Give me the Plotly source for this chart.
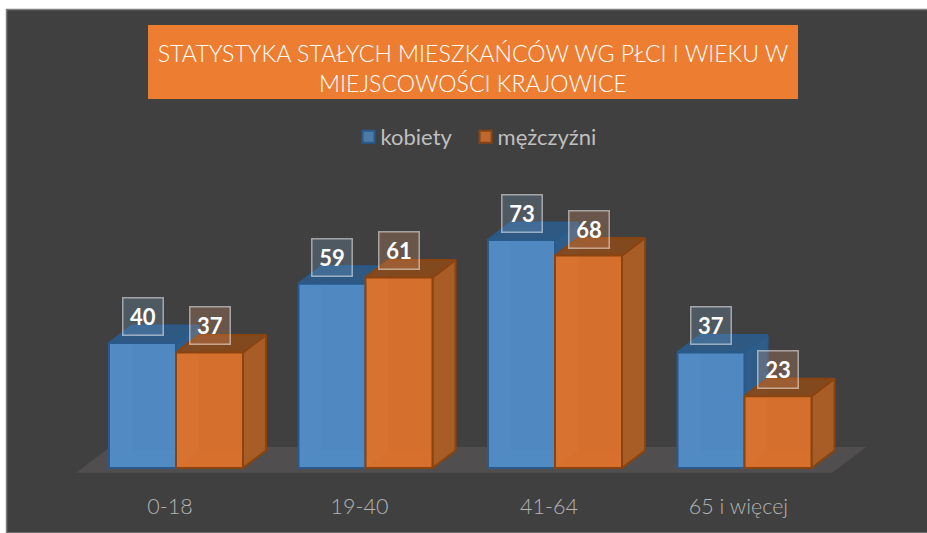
import plotly.graph_objects as go

categories = ["0-18", "19-40", "41-64", "65 i więcej"]
kobiety = [40, 59, 73, 37]
mezczyzni = [37, 61, 68, 23]
series_names = ["kobiety", "mężczyźni"]
title_text = "STATYSTYKA STAŁYCH MIESZKAŃCÓW WG PŁCI I WIEKU W<br>MIEJSCOWOŚCI KRAJOWICE"

W, H = 927, 533
BOTTOM = 43
px_x = 189.5
px_y = 3.125
x_lo = -176 / px_x
x_hi = (W - 176) / px_x
y_lo = -(H - BOTTOM - 468) / px_y
y_hi = 468 / px_y
bw = 67 / px_x
dx = 23 / px_x
dy = 17.5 / px_y
pos = list(range(len(categories)))

STY = [
    dict(front="rgba(80,137,194,0.80)", under="#4F86BC", strip="#5B93CA", floor="#5690C8",
         line="#295A8A", side="rgba(44,96,146,0.9)", top="rgba(44,94,142,0.85)",
         label="rgba(130,170,210,0.24)"),
    dict(front="rgba(214,112,46,0.85)", under="#D06C2C", strip="#E07F45", floor="#E27628",
         line="#8A4410", side="rgba(168,92,38,1)", top="rgba(134,74,30,0.95)",
         label="rgba(235,160,110,0.24)"),
]

fig = go.Figure()


def poly(xs, ys, fill, line=None, width=0):
    fig.add_trace(go.Scatter(
        x=xs + xs[:1], y=ys + ys[:1], mode="lines", fill="toself", fillcolor=fill,
        line=dict(color=line or "rgba(0,0,0,0)", width=width),
        showlegend=False, hoverinfo="skip", xaxis="x", yaxis="y"))


# floor of the 3D scene
fl, fr, fb = -0.527, 3.463, -1.5
ft = 6.7
fdx = 34 / px_x
poly([fl, fr, fr + fdx, fl + fdx], [fb, fb, ft, ft], "#504E4E")

# depth faces (lower layer) drawn from the values
for s, (vals, off) in enumerate(((kobiety, -bw), (mezczyzni, 0))):
    st = STY[s]
    for p, v in zip(pos, vals):
        x0 = p + off
        x1 = x0 + bw
        poly([x1, x1 + dx, x1 + dx, x1], [0, dy, v + dy, v], st["side"], st["line"], 2)
        poly([x0, x1, x1 + dx, x0 + dx], [v, v, v + dy, v + dy], st["top"], st["line"], 2)
        poly([x0, x1, x1, x0], [0, 0, v, v], st["under"])
        poly([x0, x0 + dx, x0 + dx, x0], [0, 0, v, v], st["strip"])
        poly([x0, x1, x1, x0 + dx], [0, 0, dy, dy], st["floor"])

# front faces (upper layer)
for s, (vals, off) in enumerate(((kobiety, -bw), (mezczyzni, 0))):
    fig.add_trace(go.Bar(
        x=pos, y=vals, name=series_names[s], xaxis="x2", yaxis="y2",
        offset=off, width=bw,
        marker=dict(color=STY[s]["front"], line=dict(color=STY[s]["line"], width=2)),
        hoverinfo="x+y"))

annotations = []
for s, (vals, off) in enumerate(((kobiety, -bw / 2), (mezczyzni, bw / 2))):
    for p, v in zip(pos, vals):
        annotations.append(dict(
            x=p + off, y=v, xref="x2", yref="y2", yshift=26.5, text=f"<b>{v}</b>",
            showarrow=False, width=37, height=34, align="center", valign="middle",
            font=dict(family="Lato, sans-serif", size=22, color="#FFFFFF"),
            bgcolor=STY[s]["label"], bordercolor="rgba(255,255,255,0.5)", borderwidth=1.5, borderpad=1))

fig.update_layout(
    width=W, height=H,
    margin=dict(l=0, r=0, t=0, b=BOTTOM, autoexpand=False),
    paper_bgcolor="#FFFFFF", plot_bgcolor="rgba(0,0,0,0)",
    barmode="overlay",
    font=dict(family="Lato, sans-serif", color="#BFBFBF"),
    title=dict(text=title_text, x=473 / W, xanchor="center", xref="paper",
               y=1 - 62 / H, yanchor="middle", yref="container",
               font=dict(family="Lato, sans-serif", size=23.1, color="#FFFFFF", weight=300)),
    legend=dict(orientation="h", x=479 / W, xanchor="center", y=1 - 137 / (H - BOTTOM), yanchor="middle",
                font=dict(family="Lato, sans-serif", size=22, color="#BFBFBF"),
                bgcolor="rgba(0,0,0,0)", traceorder="normal", itemwidth=30),
    xaxis=dict(range=[x_lo, x_hi], tickmode="array", tickvals=pos, ticktext=categories,
               showgrid=False, zeroline=False, showline=False, ticks="",
               ticklabelstandoff=1, ticklabelshift=-6,
               tickfont=dict(family="Lato, sans-serif", size=21.5, color="#B4B4B4", weight=300)),
    yaxis=dict(range=[y_lo, y_hi], visible=False, showgrid=False, zeroline=False),
    xaxis2=dict(range=[x_lo, x_hi], overlaying="x", visible=False, showgrid=False, zeroline=False),
    yaxis2=dict(range=[y_lo, y_hi], overlaying="y", visible=False, showgrid=False, zeroline=False),
    annotations=annotations,
    shapes=[
        dict(type="rect", xref="paper", yref="paper", layer="below",
             x0=6.5 / W, x1=1.01, y0=-BOTTOM / (H - BOTTOM), y1=1 - 9.5 / (H - BOTTOM),
             fillcolor="#404040", line=dict(color="#7F7F7F", width=1.5)),
        dict(type="rect", xref="paper", yref="paper", layer="below",
             x0=148 / W, x1=798 / W, y0=1 - 99 / (H - BOTTOM), y1=1 - 25 / (H - BOTTOM),
             fillcolor="#ED7D31", line=dict(width=0)),
    ],
)

fig.write_html("out.html", config=dict(displayModeBar=False),
               post_script="document.body.style.margin='0';document.body.style.overflow='hidden';"
                           "document.querySelectorAll('.legendtext').forEach(function(t){t.setAttribute('x',32);});")
